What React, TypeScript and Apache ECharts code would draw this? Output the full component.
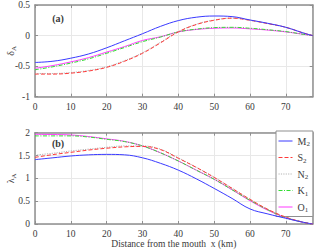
import React, { useEffect, useRef } from "react";
import * as echarts from "echarts";

const xs = [0, 5, 10, 15, 20, 25, 30, 35, 40, 45, 50, 55, 60, 65, 70, 75, 77.5];

const names = ["M2", "S2", "N2", "K1", "O1"];

const deltaM2 = [-0.44, -0.42, -0.37, -0.3, -0.2, -0.085, 0.03, 0.15, 0.245, 0.3, 0.32, 0.31, 0.255, 0.2, 0.135, 0.04, 0];
const deltaS2 = [-0.63, -0.63, -0.615, -0.58, -0.52, -0.42, -0.29, -0.12, 0.06, 0.18, 0.25, 0.285, 0.25, 0.195, 0.135, 0.04, 0];
const deltaN2 = [-0.62, -0.62, -0.605, -0.57, -0.51, -0.41, -0.28, -0.11, 0.065, 0.185, 0.255, 0.285, 0.25, 0.195, 0.135, 0.04, 0];
const deltaK1 = [-0.56, -0.51, -0.45, -0.38, -0.29, -0.195, -0.1, -0.025, 0.06, 0.105, 0.13, 0.135, 0.12, 0.095, 0.065, 0.02, 0];
const deltaO1 = [-0.535, -0.49, -0.43, -0.36, -0.27, -0.18, -0.08, -0.02, 0.06, 0.1, 0.12, 0.125, 0.11, 0.09, 0.06, 0.02, 0];

const lambdaM2 = [1.41, 1.45, 1.49, 1.515, 1.525, 1.515, 1.45, 1.33, 1.18, 0.99, 0.78, 0.56, 0.33, 0.22, 0.125, 0.035, 0];
const lambdaS2 = [1.46, 1.52, 1.57, 1.62, 1.66, 1.69, 1.7, 1.63, 1.44, 1.24, 1.02, 0.78, 0.54, 0.32, 0.15, 0.035, 0];
const lambdaN2 = [1.51, 1.55, 1.6, 1.64, 1.68, 1.71, 1.71, 1.64, 1.45, 1.245, 1.025, 0.785, 0.54, 0.32, 0.15, 0.035, 0];
const lambdaK1 = [1.93, 1.93, 1.93, 1.905, 1.855, 1.805, 1.71, 1.56, 1.38, 1.18, 0.98, 0.75, 0.52, 0.31, 0.14, 0.035, 0];
const lambdaO1 = [1.965, 1.96, 1.95, 1.915, 1.865, 1.81, 1.71, 1.56, 1.38, 1.18, 0.98, 0.75, 0.51, 0.3, 0.14, 0.035, 0];

const xTicks = { min: 0, max: 77.5, interval: 10 };
const yTicksTop = { min: -1, max: 0.5, interval: 0.5 };
const yTicksBottom = { min: 0, max: 2, interval: 0.5 };

const FONT = "'Liberation Serif', 'Times New Roman', serif";
const AXIS_COLOR = "#8f8f8f";
const TEXT_COLOR = "#3a3a3a";

const styles: Record<string, any> = {
  M2: { color: "#3a3aff", type: "solid" },
  S2: { color: "#ff3a3a", type: [4, 2] },
  N2: { color: "#b4b4b4", type: [1.2, 1.2] },
  K1: { color: "#33dd33", type: [4, 1.5, 1, 1.5] },
  O1: { color: "#ff3aff", type: "solid" },
};

const zip = (ys: number[]) => xs.map((x, i) => [x, ys[i]]);

export default function App() {
  const ref = useRef<HTMLDivElement>(null);
  useEffect(() => {
    if (!ref.current) return;
    const chart = echarts.init(ref.current, null, { renderer: "svg" });

    const topData = [deltaM2, deltaS2, deltaN2, deltaK1, deltaO1];
    const botData = [lambdaM2, lambdaS2, lambdaN2, lambdaK1, lambdaO1];

    const axisCommon = {
      axisLine: { show: true, onZero: false, lineStyle: { color: AXIS_COLOR, width: 1.5 } },
      axisTick: { show: true, inside: true, length: 3, lineStyle: { color: AXIS_COLOR } },
      nameMoveOverlap: false,
    };

    const mkX = (gridIndex: number, pos: "bottom" | "top", main: boolean, withName: boolean) => ({
      type: "value",
      gridIndex,
      position: pos,
      ...xTicks,
      ...axisCommon,
      axisLabel: main
        ? { show: true, margin: 5, fontFamily: FONT, fontSize: 9.5, color: TEXT_COLOR, showMaxLabel: false }
        : { show: false },
      splitLine: { show: main, lineStyle: { color: "#e8e8e8", width: 1 } },
      name: withName ? "Distance from the mouth  x (km)" : "",
      nameLocation: "middle",
      nameGap: 15,
      nameTextStyle: { fontFamily: FONT, fontSize: 9.5, color: TEXT_COLOR },
    });

    const subRich = {
      m: { fontFamily: FONT, fontSize: 10, color: TEXT_COLOR },
      s: { fontFamily: FONT, fontSize: 7, color: TEXT_COLOR, padding: [6, 0, 0, 0] },
    };

    const mkY = (gridIndex: number, pos: "left" | "right", main: boolean, ticks: any, name: string) => ({
      type: "value",
      gridIndex,
      position: pos,
      ...ticks,
      ...axisCommon,
      axisLabel: main
        ? { show: true, margin: 5, fontFamily: FONT, fontSize: 9.5, color: TEXT_COLOR }
        : { show: false },
      splitLine: { show: main, lineStyle: { color: "#e8e8e8", width: 1 } },
      name: main ? name : "",
      nameLocation: "middle",
      nameRotate: 90,
      nameGap: 18,
      nameTextStyle: { rich: subRich },
    });

    const series: any[] = [];
    names.forEach((n, i) => {
      series.push({
        name: n,
        type: "line",
        xAxisIndex: 0,
        yAxisIndex: 0,
        data: zip(topData[i]),
        smooth: 0.4,
        symbol: "none",
        lineStyle: { width: 1, ...styles[n] },
        itemStyle: { color: styles[n].color },
        z: 10 - i,
      });
    });
    names.forEach((n, i) => {
      series.push({
        name: n,
        type: "line",
        xAxisIndex: 2,
        yAxisIndex: 2,
        data: zip(botData[i]),
        smooth: 0.4,
        symbol: "none",
        lineStyle: { width: 1, ...styles[n] },
        itemStyle: { color: styles[n].color },
        z: 10 - i,
      });
    });

    chart.setOption({
      animation: false,
      backgroundColor: "#fff",
      grid: [
        { left: 35, top: 5, width: 277.7, height: 91.7, outerBoundsMode: "none", containLabel: false },
        { left: 35, top: 132.7, width: 277.7, height: 91.3, outerBoundsMode: "none", containLabel: false },
      ],
      xAxis: [
        mkX(0, "bottom", true, false),
        mkX(0, "top", false, false),
        mkX(1, "bottom", true, true),
        mkX(1, "top", false, false),
      ],
      yAxis: [
        mkY(0, "left", true, yTicksTop, "{m|δ}{s|A}"),
        mkY(0, "right", false, yTicksTop, ""),
        mkY(1, "left", true, yTicksBottom, "{m|λ}{s|A}"),
        mkY(1, "right", false, yTicksBottom, ""),
      ],
      legend: {
        data: names,
        orient: "vertical",
        left: 276,
        top: 131,
        padding: [4, 3, 3, 2],
        itemWidth: 14,
        itemHeight: 10,
        itemGap: 4,
        backgroundColor: "#fff",
        borderColor: AXIS_COLOR,
        borderWidth: 1,
        borderRadius: 0,
        itemStyle: { opacity: 0 },
        lineStyle: { width: 1 },
        formatter: (n: string) => `{m|${n[0]}}{s|${n.slice(1)}}`,
        textStyle: { rich: subRich, lineHeight: 12 },
      },
      graphic: [
        {
          type: "text",
          x: 58,
          y: 18,
          style: { text: "(a)", font: `bold 10px ${FONT}`, fill: TEXT_COLOR, align: "center", verticalAlign: "middle" },
        },
        {
          type: "text",
          x: 58,
          y: 143,
          style: { text: "(b)", font: `bold 10px ${FONT}`, fill: TEXT_COLOR, align: "center", verticalAlign: "middle" },
        },
      ],
      series,
    });
    return () => chart.dispose();
  }, []);
  return <div ref={ref} style={{ position: "absolute", left: 0, top: 0, width: 320, height: 251 }} />;
}
